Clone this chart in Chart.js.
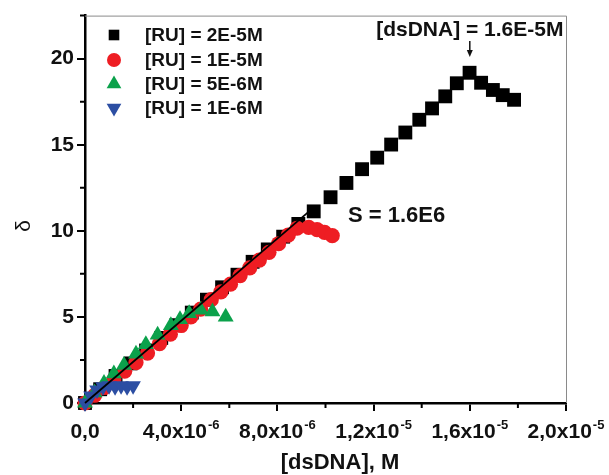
<!DOCTYPE html>
<html><head><meta charset="utf-8">
<script src="https://cdn.jsdelivr.net/npm/chart.js@4/dist/chart.umd.min.js"></script>
<style>html,body{margin:0;padding:0;background:#fff}#wrap{width:609px;height:475px}</style>
</head><body><div id="wrap"><canvas id="c" width="609" height="475"></canvas></div>
<script>
// [RU] = 2E-5M (black squares)
const ru2e5X = [0, 0.63e-6, 1.27e-6, 1.9e-6, 2.54e-6, 3.17e-6, 3.8e-6, 4.44e-6, 5.07e-6, 5.7e-6, 6.34e-6, 6.97e-6, 7.6e-6, 8.24e-6, 8.87e-6, 9.51e-6, 10.21e-6, 10.87e-6, 11.52e-6, 12.15e-6, 12.73e-6, 13.32e-6, 13.9e-6, 14.43e-6, 14.98e-6, 15.46e-6, 15.99e-6, 16.47e-6, 16.96e-6, 17.37e-6, 17.84e-6];
const ru2e5Y = [0, 0.8, 1.57, 2.3, 3.05, 3.78, 4.52, 5.25, 6.0, 6.72, 7.45, 8.2, 8.92, 9.66, 10.4, 11.13, 11.95, 12.78, 13.58, 14.25, 15.01, 15.71, 16.45, 17.11, 17.81, 18.57, 19.18, 18.6, 18.18, 17.88, 17.61];
// [RU] = 1E-5M (red circles)
const ru1e5X = [0, 0.4e-6, 0.8e-6, 1.2e-6, 1.65e-6, 2.12e-6, 2.6e-6, 3.1e-6, 3.55e-6, 4.0e-6, 4.4e-6, 4.81e-6, 5.25e-6, 5.65e-6, 6.05e-6, 6.45e-6, 6.85e-6, 7.25e-6, 7.65e-6, 8.05e-6, 8.45e-6, 8.82e-6, 9.3e-6, 9.65e-6, 9.96e-6, 10.28e-6];
const ru1e5Y = [0, 0.45, 0.9, 1.35, 1.85, 2.35, 2.9, 3.45, 4.0, 4.5, 5.0, 5.45, 6.0, 6.45, 6.9, 7.4, 7.85, 8.3, 8.75, 9.25, 9.75, 10.15, 10.2, 10.07, 9.91, 9.72];
// [RU] = 5E-6M (green triangles)
const ru5e6X = [0, 0.4e-6, 0.79e-6, 1.2e-6, 1.62e-6, 2.12e-6, 2.53e-6, 3.02e-6, 3.57e-6, 3.95e-6, 4.33e-6, 4.81e-6, 5.3e-6, 5.85e-6];
const ru5e6Y = [0, 0.6, 1.15, 1.7, 2.2, 2.85, 3.4, 3.95, 4.5, 4.85, 5.2, 5.4, 5.3, 5.0];
// [RU] = 1E-6M (blue inverted triangles)
const ru1e6X = [0, 0.25e-6, 0.5e-6, 0.75e-6, 1.0e-6, 1.25e-6, 1.5e-6, 1.75e-6, 2.0e-6];
const ru1e6Y = [0, 0.4, 0.75, 0.95, 1.0, 0.95, 1.0, 0.95, 1.0];
// linear fit
const fitX = [0, 9.38e-6];
const fitY = [0, 11.2];

const seriesNames = ['[RU] = 2E-5M', '[RU] = 1E-5M', '[RU] = 5E-6M', '[RU] = 1E-6M'];
const xMajorTicks = [0, 4e-6, 8e-6, 1.2e-5, 1.6e-5, 2.0e-5];
const xTickBase = ['0,0', '4,0x10', '8,0x10', '1,2x10', '1,6x10', '2,0x10'];
const xTickExp = ['', '-6', '-6', '-5', '-5', '-5'];
const xMinorTicks = [2e-6, 6e-6, 1.0e-5, 1.4e-5, 1.8e-5];
const yMinorTicks = [2.5, 7.5, 12.5, 17.5, 22.5];

const BLACK = '#000000', RED = '#EE1D23', GREEN = '#0BA14B', BLUE = '#2C4EA3';
const FONT = '"Liberation Sans", Arial, sans-serif';

const zip = (xs, ys) => xs.map((x, i) => ({x: x, y: ys[i]}));

function marker(ctx, style, x, y, r, color, rot) {
  ctx.save();
  ctx.fillStyle = color;
  ctx.beginPath();
  if (style === 'rect') {
    const s = r * Math.SQRT1_2;
    ctx.rect(x - s, y - s, 2 * s, 2 * s);
  } else if (style === 'circle') {
    ctx.arc(x, y, r, 0, Math.PI * 2);
  } else {
    let a = rot ? Math.PI : 0;
    ctx.moveTo(x + Math.sin(a) * r, y - Math.cos(a) * r);
    a += 2 * Math.PI / 3;
    ctx.lineTo(x + Math.sin(a) * r, y - Math.cos(a) * r);
    a += 2 * Math.PI / 3;
    ctx.lineTo(x + Math.sin(a) * r, y - Math.cos(a) * r);
    ctx.closePath();
  }
  ctx.fill();
  ctx.restore();
}

const decor = {
  id: 'decor',
  afterDraw(chart) {
    const ctx = chart.ctx, a = chart.chartArea;
    const xs = chart.scales.x, ys = chart.scales.y;
    ctx.save();
    // top & right frame
    ctx.strokeStyle = '#8a8a8a';
    ctx.lineWidth = 1;
    ctx.beginPath();
    ctx.moveTo(a.left, a.top + 0.5); ctx.lineTo(a.right + 0.5, a.top + 0.5);
    ctx.lineTo(a.right + 0.5, a.bottom);
    ctx.stroke();
    // minor ticks
    ctx.strokeStyle = '#000';
    ctx.lineWidth = 2;
    ctx.beginPath();
    yMinorTicks.forEach(v => { const p = ys.getPixelForValue(v); ctx.moveTo(a.left - 5, p); ctx.lineTo(a.left, p); });
    xMinorTicks.forEach(v => { const p = xs.getPixelForValue(v); ctx.moveTo(p, a.bottom); ctx.lineTo(p, a.bottom + 5); });
    ctx.stroke();
    // x tick labels with superscripts
    ctx.fillStyle = '#111';
    ctx.textBaseline = 'alphabetic';
    xMajorTicks.forEach((v, i) => {
      const p = xs.getPixelForValue(v);
      ctx.font = 'bold 21px ' + FONT;
      const wb = ctx.measureText(xTickBase[i]).width;
      ctx.font = 'bold 13px ' + FONT;
      const we = xTickExp[i] ? ctx.measureText(xTickExp[i]).width + 1 : 0;
      const x0 = p - (wb + we) / 2;
      ctx.textAlign = 'left';
      ctx.font = 'bold 21px ' + FONT;
      ctx.fillText(xTickBase[i], x0, 438);
      if (xTickExp[i]) {
        ctx.font = 'bold 13px ' + FONT;
        ctx.fillText(xTickExp[i], x0 + wb + 1, 429);
      }
    });
    // axis titles
    ctx.textAlign = 'center';
    ctx.textBaseline = 'middle';
    ctx.font = 'bold 22px ' + FONT;
    ctx.fillText('[dsDNA], M', 340, 463);
    ctx.save();
    ctx.translate(24, 226);
    ctx.rotate(-Math.PI / 2);
    ctx.font = '21px ' + FONT;
    ctx.fillText('δ', 0, 0);
    ctx.restore();
    // legend
    const styles = [['rect', BLACK, 7.5, false], ['circle', RED, 7, false], ['triangle', GREEN, 8.5, false], ['triangle', BLUE, 8.5, true]];
    const rows = [35, 60, 84, 108];
    ctx.textAlign = 'left';
    ctx.font = 'bold 19px ' + FONT;
    seriesNames.forEach((n, i) => {
      const st = styles[i];
      marker(ctx, st[0], 114, rows[i], st[2], st[1], st[3]);
      ctx.fillStyle = '#111';
      ctx.fillText(n, 145, rows[i] + 1);
    });
    // peak annotation
    const px = xs.getPixelForValue(1.6e-5);
    ctx.textAlign = 'center';
    ctx.font = 'bold 21px ' + FONT;
    ctx.fillText('[dsDNA] = 1.6E-5M', px, 30);
    ctx.strokeStyle = '#111';
    ctx.lineWidth = 1.5;
    ctx.beginPath(); ctx.moveTo(px, 41); ctx.lineTo(px, 52); ctx.stroke();
    ctx.fillStyle = '#111';
    ctx.beginPath(); ctx.moveTo(px - 3, 50); ctx.lineTo(px + 3, 50); ctx.lineTo(px, 57); ctx.closePath(); ctx.fill();
    // slope label
    ctx.textAlign = 'left';
    ctx.font = 'bold 22px ' + FONT;
    ctx.fillText('S = 1.6E6', 348, 216);
    ctx.restore();
  }
};

new Chart(document.getElementById('c'), {
  type: 'scatter',
  data: {
    datasets: [
      {label: seriesNames[0], data: zip(ru2e5X, ru2e5Y), pointStyle: 'rect', pointRadius: 9.8, pointHoverRadius: 9.8, backgroundColor: BLACK, borderColor: BLACK, borderWidth: 0, order: 4, clip: false},
      {label: seriesNames[1], data: zip(ru1e5X, ru1e5Y), pointStyle: 'circle', pointRadius: 7.6, pointHoverRadius: 7.6, backgroundColor: RED, borderColor: RED, borderWidth: 0, order: 3, clip: false},
      {label: seriesNames[2], data: zip(ru5e6X, ru5e6Y), pointStyle: 'triangle', pointRadius: 9.2, pointHoverRadius: 9.2, backgroundColor: GREEN, borderColor: GREEN, borderWidth: 0, order: 2, clip: false},
      {label: seriesNames[3], data: zip(ru1e6X, ru1e6Y), pointStyle: 'triangle', rotation: 180, pointRadius: 9, pointHoverRadius: 9, backgroundColor: BLUE, borderColor: BLUE, borderWidth: 0, order: 1, clip: false},
      {label: 'fit', data: zip(fitX, fitY), showLine: true, pointRadius: 0, borderColor: '#000', borderWidth: 1.8, order: 0, clip: false}
    ]
  },
  options: {
    responsive: false,
    animation: false,
    devicePixelRatio: 1,
    layout: {padding: {top: 10, right: 43, left: 0, bottom: 0}},
    plugins: {legend: {display: false}, tooltip: {enabled: false}},
    scales: {
      x: {
        type: 'linear', min: 0, max: 2e-5,
        afterFit(s) { s.height = 72; },
        ticks: {display: false, stepSize: 4e-6, includeBounds: false},
        grid: {drawOnChartArea: false, drawTicks: true, tickLength: 8, color: '#000', lineWidth: 2},
        border: {display: true, color: '#000', width: 2.5}
      },
      y: {
        type: 'linear', min: 0, max: 22.5,
        afterFit(s) { s.width = 85; },
        ticks: {stepSize: 5, includeBounds: false, color: '#111', padding: 3, font: {family: FONT, weight: 'bold', size: 21}},
        grid: {drawOnChartArea: false, drawTicks: true, tickLength: 8, color: '#000', lineWidth: 2},
        border: {display: true, color: '#000', width: 2.5}
      }
    }
  },
  plugins: [decor]
});
</script>
</body></html>
